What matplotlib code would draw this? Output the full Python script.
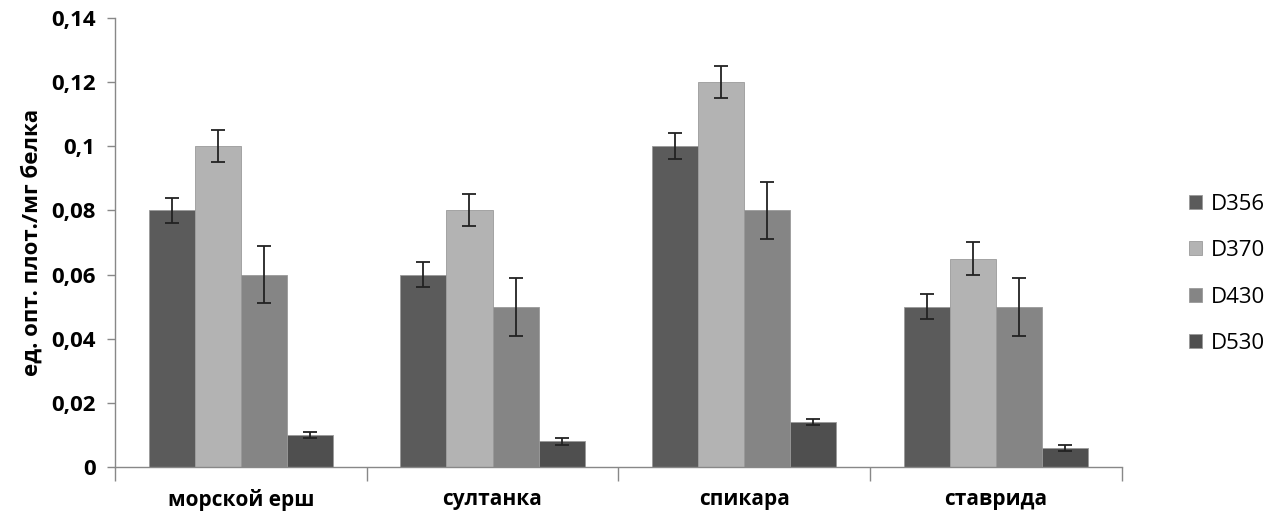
import numpy as np
import matplotlib.pyplot as plt
from matplotlib.ticker import FixedLocator, FuncFormatter

plt.rcParams['font.family'] = ['Open Sans', 'DejaVu Sans']

categories = ['морской ерш', 'султанка', 'спикара', 'ставрида']
series = ['D356', 'D370', 'D430', 'D530']
d356 = [0.08, 0.06, 0.10, 0.05]
d370 = [0.10, 0.08, 0.12, 0.065]
d430 = [0.06, 0.05, 0.08, 0.05]
d530 = [0.010, 0.008, 0.014, 0.006]
err356 = [0.004, 0.004, 0.004, 0.004]
err370 = [0.005, 0.005, 0.005, 0.005]
err430 = [0.009, 0.009, 0.009, 0.009]
err530 = [0.001, 0.001, 0.001, 0.001]

values = [d356, d370, d430, d530]
errors = [err356, err370, err430, err530]
colors = ['#5b5b5b', '#b3b3b3', '#858585', '#4f4f4f']

fig = plt.figure(figsize=(12.82, 5.17), dpi=100)
ax = fig.add_axes([0.0897, 0.0967, 0.7853, 0.8685])

x = np.arange(len(categories))
w = 0.183
for i, (vals, errs) in enumerate(zip(values, errors)):
    ax.bar(x + (i - 1.5) * w, vals, w, color=colors[i], edgecolor='#9a9a9a',
           linewidth=0.6, label=series[i],
           yerr=errs, capsize=5, error_kw=dict(ecolor='#222222', elinewidth=1.3, capthick=1.3))

ax.set_xlim(-0.5, len(categories) - 0.5)
ax.set_ylim(0, 0.14)

ax.set_yticks(np.arange(0, 0.141, 0.02))
ax.yaxis.set_major_formatter(FuncFormatter(
    lambda v, p: '0' if abs(v) < 1e-9 else ('%g' % round(v, 2)).replace('.', ',')))
ax.xaxis.set_major_locator(FixedLocator(np.arange(-0.5, len(categories), 1.0)))
ax.xaxis.set_minor_locator(FixedLocator(x))
ax.set_xticklabels([''] * (len(categories) + 1))
ax.set_xticklabels(categories, minor=True, fontsize=15, fontweight='bold')
ax.tick_params(axis='x', which='major', length=10, color='#888888', width=1)
ax.tick_params(axis='x', which='minor', length=0, pad=16)
ax.tick_params(axis='y', length=6, color='#888888', width=1, labelsize=16, pad=8)
for lab in ax.get_yticklabels():
    lab.set_fontweight('bold')

for s in ['top', 'right']:
    ax.spines[s].set_visible(False)
for s in ['left', 'bottom']:
    ax.spines[s].set_color('#888888')
    ax.spines[s].set_linewidth(1)

ax.set_ylabel('ед. опт. плот./мг белка', fontsize=16, fontweight='bold', labelpad=6)

ax.legend(loc='center left', bbox_to_anchor=(1.047, 0.43), frameon=False,
          fontsize=16, handlelength=0.6, handleheight=0.6, handletextpad=0.4,
          labelspacing=1.15)

fig.savefig('out.png', dpi=100)
